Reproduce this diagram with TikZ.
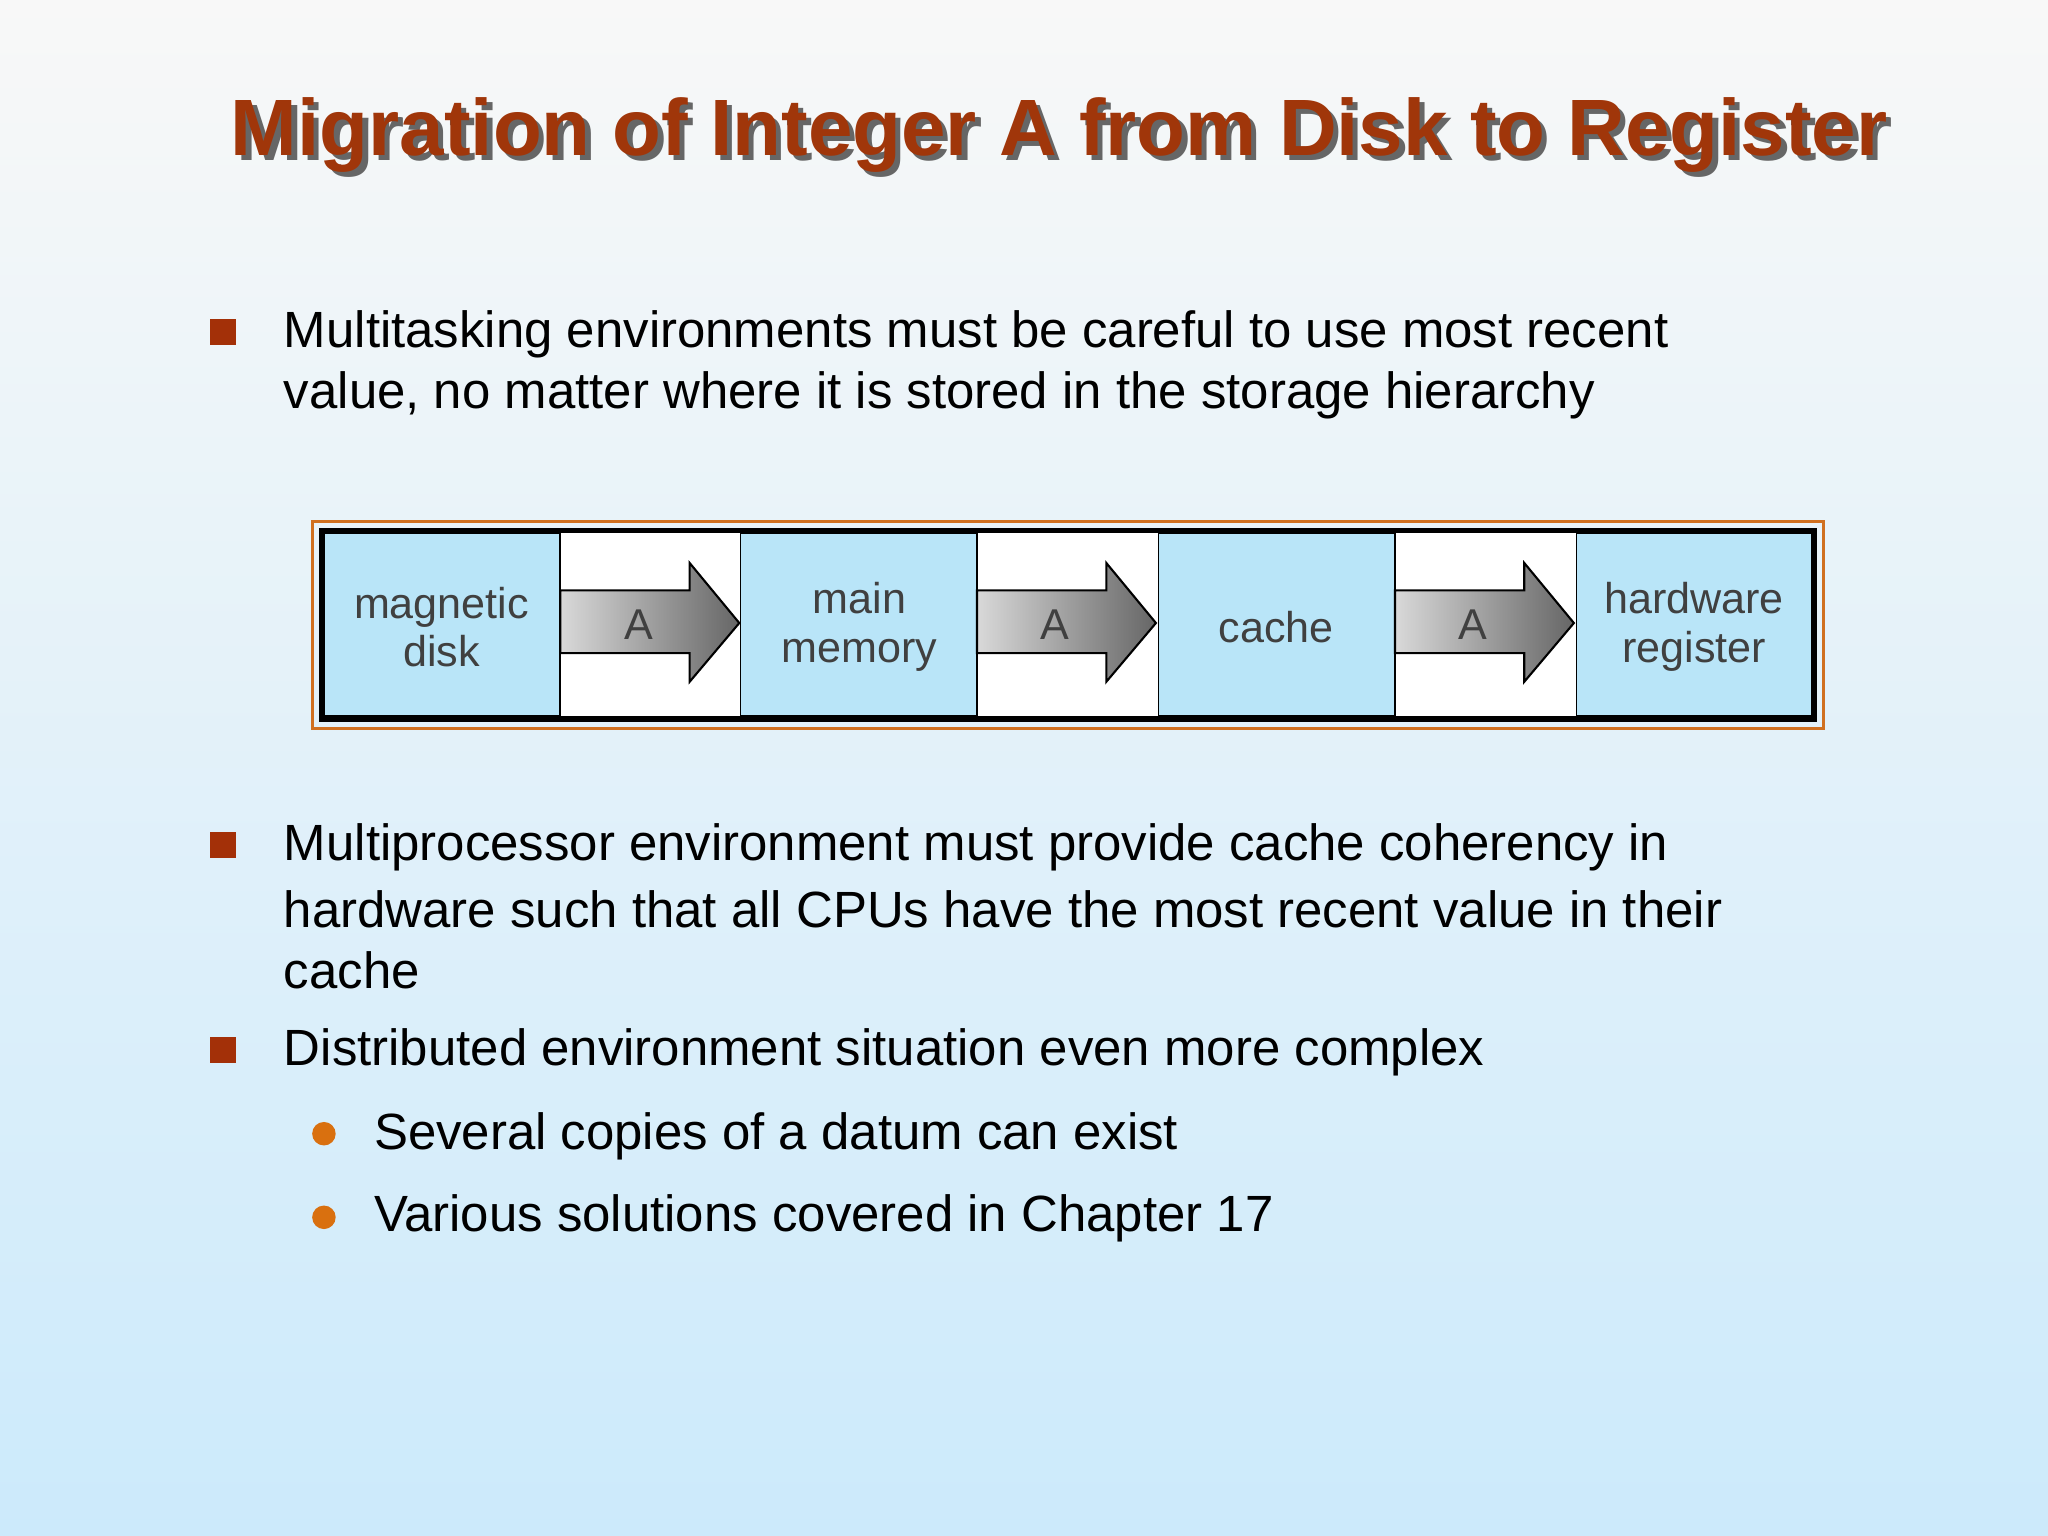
\documentclass[tikz,border=0pt]{standalone}
\usepackage{fontspec}
\setmainfont{Liberation Sans}
\definecolor{titlec}{HTML}{A0360A}
\definecolor{bul}{HTML}{A33008}
\definecolor{dot}{HTML}{D9700F}
\definecolor{boxc}{HTML}{B9E5F8}
\definecolor{bgtop}{HTML}{F8F8F8}
\definecolor{bgbot}{HTML}{CCEAFB}
\definecolor{frame}{HTML}{D07020}
\tikzset{
 body/.style={anchor=west,font=\fontsize{19.5}{23}\selectfont,inner sep=0pt},
 sq/.style={fill=bul,minimum size=10pt,inner sep=0pt},
 rd/.style={circle,fill=dot,minimum size=9pt,inner sep=0pt},
 blue/.style={fill=boxc,draw=black,line width=0.7pt},
 lbl/.style={font=\fontsize{16.5}{18.5}\selectfont,text=black!75,align=center},
 arr/.style={left color=black!15,right color=black!60,draw=black,line width=0.8pt}
}
\begin{document}
\begin{tikzpicture}[x=0.5pt,y=-0.5pt]
\shade[top color=bgtop,bottom color=bgbot] (0,0) rectangle (1568,1176);
\useasboundingbox (0,0) rectangle (1568,1176);
\node[font=\bfseries\fontsize{30.6}{34}\selectfont,text=black!60] at (815,107) {Migration of Integer A from Disk to Register};
\node (title) [font=\bfseries\fontsize{30.6}{34}\selectfont,text=titlec] at (811,103) {Migration of Integer A from Disk to Register};
\node (s1) [sq] at (171,254) {};
\node (t1) [body] at (217,256) {Multitasking environments must be careful to use most recent};
\node (t1b) [body] at (217,303) {value, no matter where it is stored in the storage hierarchy};
\node (s2) [sq] at (171,647) {};
\node (t2) [body] at (217,649) {Multiprocessor environment must provide cache coherency in};
\node (t2b) [body] at (217,696) {hardware such that all CPUs have the most recent value in their};
\node (t2c) [body] at (217,743) {cache};
\node (s3) [sq] at (171,804) {};
\node (t3) [body] at (217,806) {Distributed environment situation even more complex};
\node (d1) [rd] at (248,868) {};
\node (u1) [body] at (286,870) {Several copies of a datum can exist};
\node (d2) [rd] at (248,932) {};
\node (u2) [body] at (286,933) {Various solutions covered in Chapter 17};
% diagram frame
\draw[frame,line width=1.2pt] (239,399) rectangle (1396,558);
\fill[black] (244,404) rectangle (1391,553);
\fill[white] (248,408) rectangle (1387,548);
\draw[blue] (248,408) rectangle (429,548);
\draw[blue] (567,408) rectangle (748,548);
\draw[blue] (887,408) rectangle (1068,548);
\draw[blue] (1207,408) rectangle (1387,548);
\node (b1) [lbl] at (338,480) {magnetic\\disk};
\node (b2) [lbl] at (658,480) {main\\memory};
\node (b3) [lbl] at (977,480) {cache};
\node (b4) [lbl] at (1297,480) {hardware\\register};
\foreach \x/\n in {429/a1,748/a2,1068/a3}{
 \draw[arr] (\x,452) -- (\x+99,452) -- (\x+99,431) -- (\x+137,477) -- (\x+99,522) -- (\x+99,500) -- (\x,500) -- cycle;
 \node (\n) [lbl] at (\x+60,478) {A};
}
\end{tikzpicture}
\end{document}
